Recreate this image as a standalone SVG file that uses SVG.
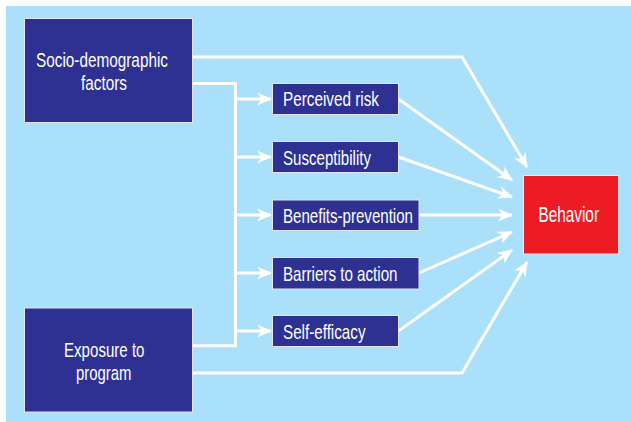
<svg xmlns="http://www.w3.org/2000/svg" width="631" height="422" viewBox="0 0 631 422">
  <style>
    .box { fill: #2e3192; stroke: #e4e6f4; stroke-width: 1; }
    .red { fill: #ed1c24; stroke: #f4e4e6; stroke-width: 1; }
    .lbl { font-family: "Liberation Sans", Arial, sans-serif; font-size: 21px; fill: #ffffff; }
    .big { font-size: 20.5px; }
    .beh { font-size: 22px; }
    .con { fill: none; stroke: #ffffff; stroke-width: 3; stroke-linejoin: miter; }
    .arr { marker-end: url(#ah); }
  </style>
  <defs>
    <marker id="ah" markerUnits="userSpaceOnUse" markerWidth="16" markerHeight="14" refX="14" refY="6.5" orient="auto" viewBox="0 0 16 13">
      <path d="M0,0 L15,6.5 L0,13 L4.5,6.5 z" fill="#ffffff"/>
    </marker>
  </defs>
  <rect x="6" y="6" width="625" height="416" fill="#aae0f9"/>

  <g id="connectors">
    <path class="con arr" d="M193,57 H462 L527,167"/>
    <path class="con" d="M193,83.5 H235.5 V345.7 H193"/>
    <path class="con arr" d="M235.5,99 H271"/>
    <path class="con arr" d="M235.5,157 H271"/>
    <path class="con arr" d="M235.5,215 H271"/>
    <path class="con arr" d="M235.5,273 H271"/>
    <path class="con arr" d="M235.5,331 H271"/>
    <path class="con arr" d="M398.5,99 L512,180"/>
    <path class="con arr" d="M398.5,157 L512,197"/>
    <path class="con arr" d="M419,215 H512"/>
    <path class="con arr" d="M419,273 L512,232"/>
    <path class="con arr" d="M398.5,331 L512,250"/>
    <path class="con arr" d="M193,373 H462 L527,262"/>
  </g>

  <g id="socio">
    <rect class="box" x="24.5" y="18.5" width="168" height="104"/>
    <text class="lbl big" x="36" y="66.5" textLength="132" lengthAdjust="spacingAndGlyphs">Socio-demographic</text>
    <text class="lbl big" x="81" y="89.5" textLength="46" lengthAdjust="spacingAndGlyphs">factors</text>
  </g>
  <g id="exposure">
    <rect class="box" x="24.5" y="308" width="168" height="104"/>
    <text class="lbl big" x="64" y="356.5" textLength="80.5" lengthAdjust="spacingAndGlyphs">Exposure to</text>
    <text class="lbl big" x="76" y="379.5" textLength="55.5" lengthAdjust="spacingAndGlyphs">program</text>
  </g>
  <g id="perceived">
    <rect class="box" x="272.5" y="83.5" width="126" height="31"/>
    <text class="lbl" x="283" y="106" textLength="96" lengthAdjust="spacingAndGlyphs">Perceived risk</text>
  </g>
  <g id="susceptibility">
    <rect class="box" x="272.5" y="141.5" width="126" height="31"/>
    <text class="lbl" x="283" y="164.5" textLength="88" lengthAdjust="spacingAndGlyphs">Susceptibility</text>
  </g>
  <g id="benefits">
    <rect class="box" x="272.5" y="200" width="146.5" height="30.5"/>
    <text class="lbl" x="283" y="222.5" textLength="130" lengthAdjust="spacingAndGlyphs">Benefits-prevention</text>
  </g>
  <g id="barriers">
    <rect class="box" x="272.5" y="257.5" width="146.5" height="31.5"/>
    <text class="lbl" x="283" y="280.5" textLength="114.5" lengthAdjust="spacingAndGlyphs">Barriers to action</text>
  </g>
  <g id="selfefficacy">
    <rect class="box" x="272.5" y="315.5" width="126" height="31"/>
    <text class="lbl" x="283" y="338.5" textLength="82.5" lengthAdjust="spacingAndGlyphs">Self-efficacy</text>
  </g>
  <g id="behavior">
    <rect class="red" x="523.5" y="175.5" width="95" height="78.5"/>
    <text class="lbl beh" x="538.5" y="222" textLength="60.5" lengthAdjust="spacingAndGlyphs">Behavior</text>
  </g>
</svg>
